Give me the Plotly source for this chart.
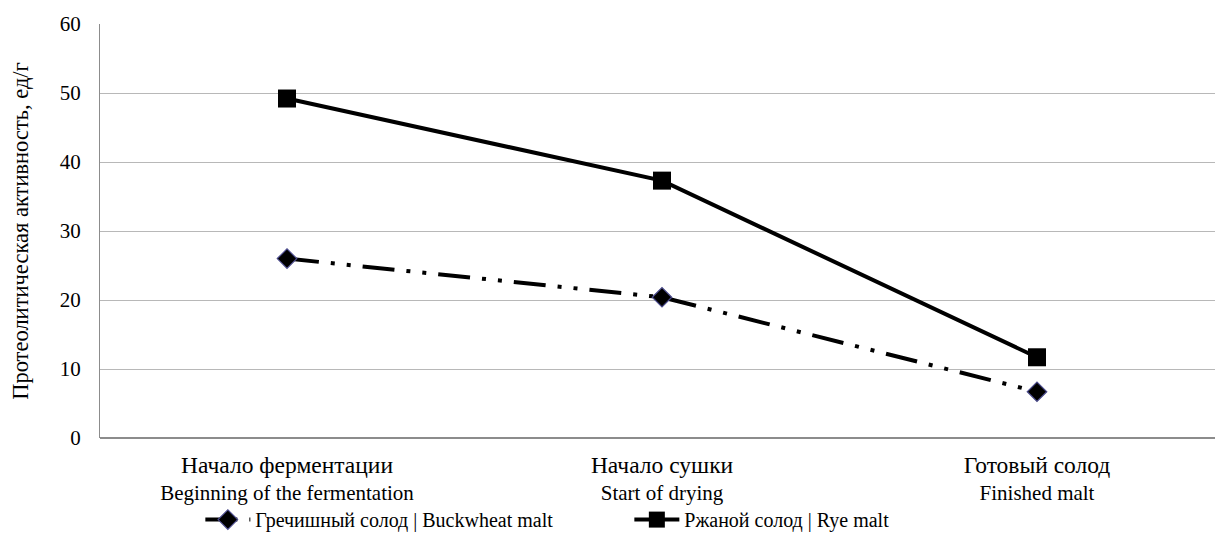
import plotly.graph_objects as go

categories_ru = ["Начало ферментации", "Начало сушки", "Готовый солод"]
categories_en = ["Beginning of the fermentation", "Start of drying", "Finished malt"]
buckwheat = [26.0, 20.4, 6.7]
rye = [49.2, 37.3, 11.7]
y_ticks = [0, 10, 20, 30, 40, 50, 60]

FONT = "Times New Roman"
xs = list(range(len(categories_ru)))
ticktext = ['<span style="font-size:23.5px">%s</span><br>%s' % (r, e)
            for r, e in zip(categories_ru, categories_en)]

fig = go.Figure()
fig.add_trace(go.Scatter(
    x=xs, y=buckwheat, mode="lines+markers",
    name="Гречишный солод | Buckwheat malt",
    line=dict(color="black", width=4, dash="32px,12px,4px,12px,4px,12px"),
    marker=dict(symbol="diamond", size=15, color="black",
                line=dict(color="#4b4b8c", width=1.2)),
))
fig.add_trace(go.Scatter(
    x=xs, y=rye, mode="lines+markers",
    name="Ржаной солод | Rye malt",
    line=dict(color="black", width=4),
    marker=dict(symbol="square", size=18, color="black"),
))

fig.update_layout(
    width=1215, height=535,
    margin=dict(l=100, r=0, t=24, b=97, autoexpand=False),
    paper_bgcolor="white", plot_bgcolor="white",
    font=dict(family=FONT, size=21, color="black"),
    showlegend=True,
    legend=dict(orientation="h", x=0.09, xanchor="left", y=-0.15, yanchor="top",
                font=dict(family=FONT, size=20), itemwidth=45,
                bgcolor="rgba(0,0,0,0)",
                tracegroupgap=0, entrywidth=369),
    xaxis=dict(range=[-0.4987, 2.4747], tickmode="array", tickvals=xs,
               ticktext=ticktext, showgrid=False, zeroline=False,
               showline=False, ticks="", tickfont=dict(size=21), automargin=False,
               ticklabelstandoff=13),
    yaxis=dict(range=[0, 60], tickmode="array", tickvals=y_ticks,
               showgrid=True, gridcolor="#b8b8b8", gridwidth=1.2,
               zeroline=True, zerolinecolor="#8c8c8c", zerolinewidth=1.5,
               showline=True, linecolor="#8c8c8c", linewidth=1.2,
               ticks="", ticklabelstandoff=14, tickfont=dict(size=21), automargin=False,
               title=dict(text="Протеолитическая активность, ед/г",
                          font=dict(size=22.5), standoff=24)),
)

fig.write_html("out.html")
